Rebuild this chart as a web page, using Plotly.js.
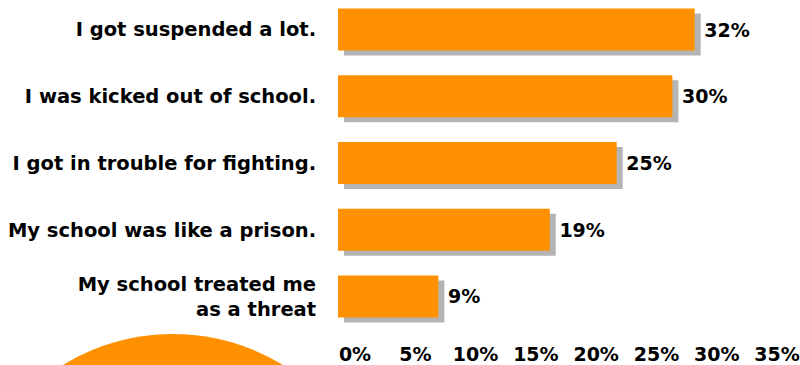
<!DOCTYPE html>
<html>
<head>
<meta charset="utf-8">
<script src="https://cdn.plot.ly/plotly-3.0.1.min.js"></script>
<style>html,body{margin:0;padding:0;background:#fff;}#chart{width:800px;height:365px;}</style>
</head>
<body>
<div id="chart"></div>
<script>
const categories = [
  "I got suspended a lot.",
  "I was kicked out of school.",
  "I got in trouble for fighting.",
  "My school was like a prison.",
  "My school treated me<br>as a threat"
];
const values = [32, 30, 25, 19, 9];
const tickValues = [0, 5, 10, 15, 20, 25, 30, 35];
const tickLabels = ["0%", "5%", "10%", "15%", "20%", "25%", "30%", "35%"];

const positions = categories.map((c, i) => i);
const shadowDx = 0.54;   // shadow offset (data units, ~6px)
const shadowDy = 0.075;  // shadow offset (category units, ~5px)
const FONT = "DejaVu Sans, Arial Black, sans-serif";
const ORANGE = "#FF9100";

const shadow = {
  type: "bar", orientation: "h",
  x: values, y: positions.map(p => p + shadowDy),
  base: values.map(() => shadowDx),
  width: 0.63,
  marker: {color: "#B4B4B4"},
  textposition: "none",
  hoverinfo: "skip", showlegend: false
};
const bars = {
  type: "bar", orientation: "h",
  x: values, y: positions,
  width: 0.63,
  marker: {color: ORANGE},
  text: values.map(v => "\u00a0" + v + "%"),
  textposition: "outside",
  textfont: {family: FONT, size: 19, color: "#000", weight: "bold"},
  cliponaxis: false,
  hoverinfo: "skip", showlegend: false
};
const axisHolder = {
  type: "scatter", mode: "markers",
  x: tickValues, y: tickValues.map(() => 0),
  xaxis: "x2", yaxis: "y",
  marker: {opacity: 0}, hoverinfo: "skip", showlegend: false
};

const layout = {
  width: 800, height: 365,
  margin: {l: 338, r: 5, t: 0, b: 35},
  paper_bgcolor: "#fff", plot_bgcolor: "rgba(0,0,0,0)",
  barmode: "overlay",
  showlegend: false,
  xaxis: {range: [0, 41], showgrid: false, zeroline: false, showticklabels: false, showline: false, fixedrange: true},
  xaxis2: {
    overlaying: "x", anchor: "y", side: "bottom",
    range: [-1.41, 36.49],
    tickvals: tickValues, ticktext: tickLabels,
    showgrid: false, zeroline: false, showline: false,
    ticks: "outside", ticklen: 7, tickcolor: "rgba(0,0,0,0)",
    tickfont: {family: FONT, size: 19, color: "#000", weight: "bold"}
  },
  yaxis: {
    range: [4.502, -0.442],
    tickvals: positions, ticktext: categories,
    showgrid: false, zeroline: false, showline: false,
    ticks: "outside", ticklen: 17, tickcolor: "rgba(0,0,0,0)",
    tickfont: {family: FONT, size: 19.5, color: "#000", weight: "bold"}
  },
  shapes: [{
    type: "circle", xref: "paper", yref: "paper", layer: "below",
    x0: -0.823, x1: 0.1007, y0: -1.291, y1: -0.0121,
    fillcolor: ORANGE, line: {width: 0}
  }]
};

Plotly.newPlot("chart", [shadow, bars, axisHolder], layout, {displayModeBar: false, staticPlot: true});
</script>
</body>
</html>
